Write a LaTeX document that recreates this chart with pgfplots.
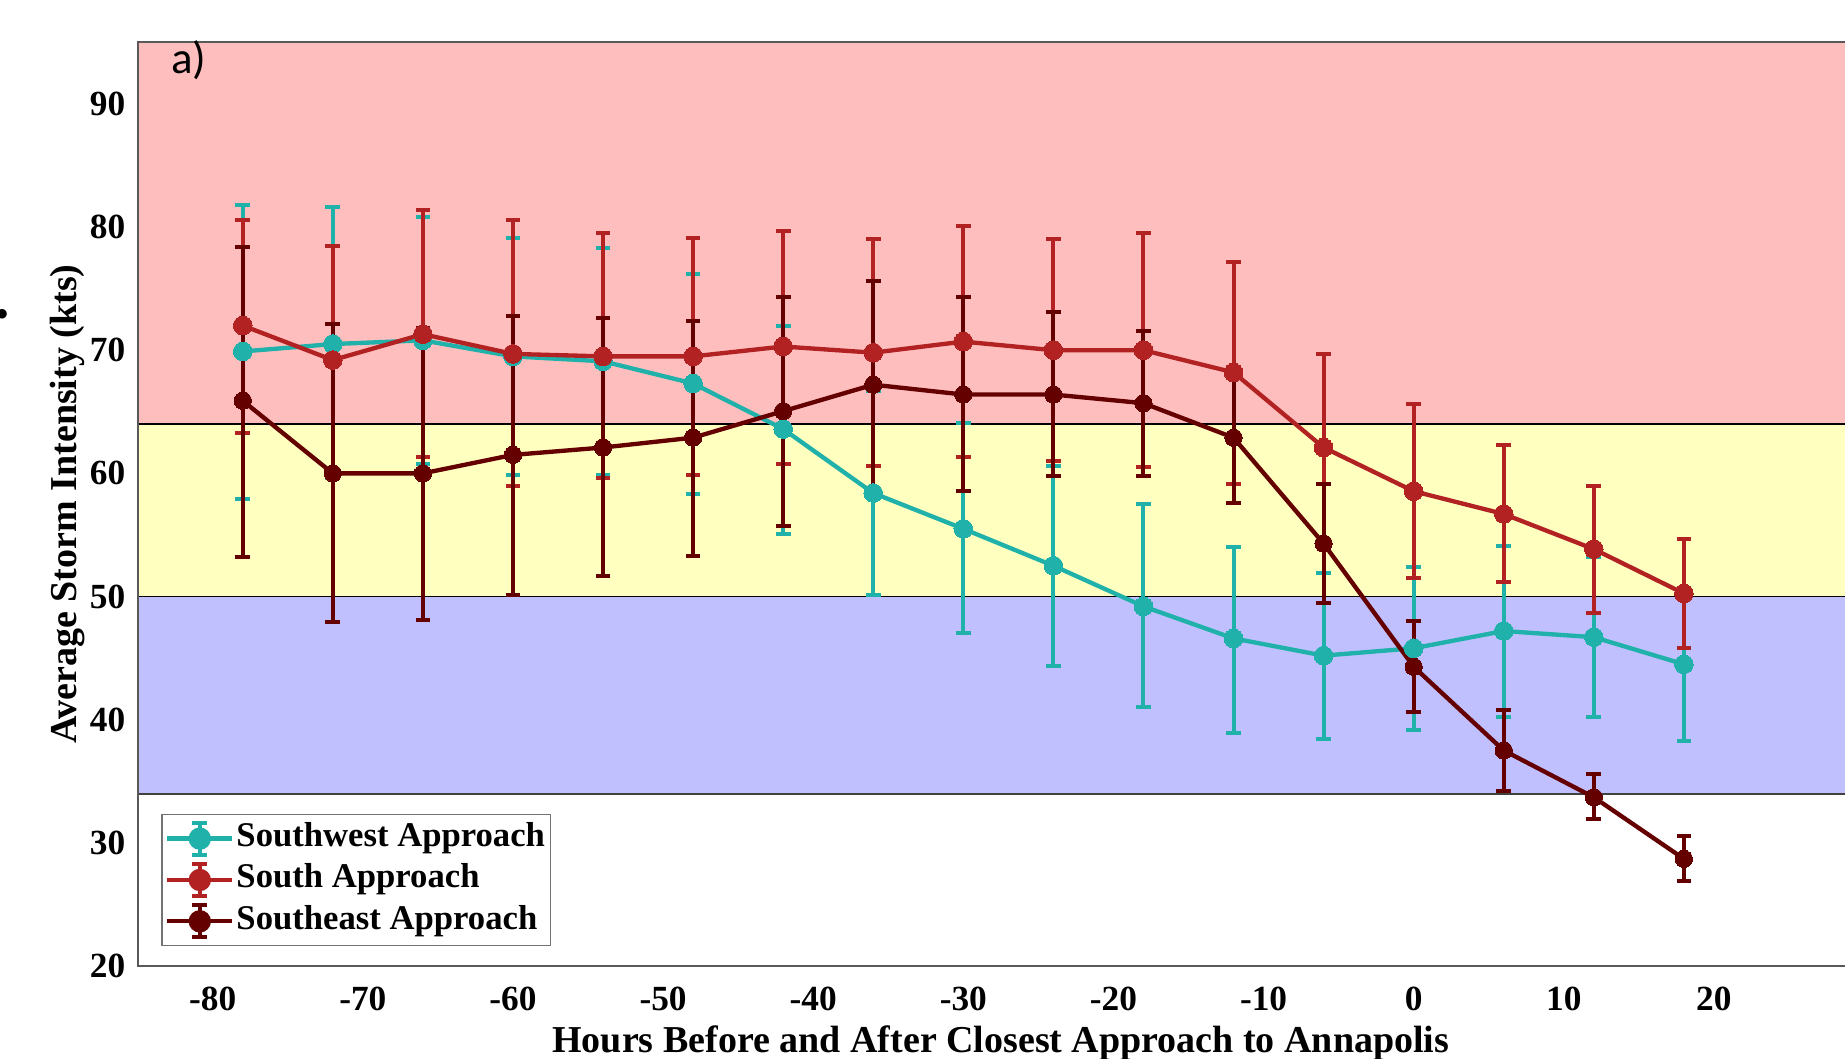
\documentclass[border=0pt]{standalone}
\usepackage{pgfplots}
\usepackage{pgfplotstable}
\pgfplotsset{compat=1.18}
\usepackage{fontspec}
\setmainfont{Liberation Serif}
\newfontfamily\carlito{Carlito}
\definecolor{cSW}{HTML}{20B2AA}
\definecolor{cS}{HTML}{B22222}
\definecolor{cSE}{HTML}{640000}
\definecolor{bandR}{HTML}{FFBEBE}
\definecolor{bandY}{HTML}{FFFFC0}
\definecolor{bandB}{HTML}{C0C0FF}

\pgfplotstableread{
x y ep em
-78 69.9 11.9 12.0
-72 70.5 11.1 10.9
-66 70.8 10.0 10.0
-60 69.5 9.6 9.65
-54 69.1 9.2 9.25
-48 67.3 8.9 9.0
-42 63.6 8.4 8.5
-36 58.4 8.3 8.3
-30 55.5 8.55 8.5
-24 52.5 8.1 8.15
-18 49.2 8.3 8.2
-12 46.6 7.4 7.7
-6 45.2 6.7 6.8
0 45.8 6.6 6.6
6 47.2 6.9 7.0
12 46.7 6.5 6.5
18 44.5 6.2 6.2
}\tabSW

\pgfplotstableread{
x y ep em
-78 72.0 8.6 8.7
-72 69.2 9.3 9.3
-66 71.3 10.1 10.0
-60 69.7 10.9 10.7
-54 69.5 10.0 9.9
-48 69.5 9.6 9.6
-42 70.3 9.4 9.5
-36 69.8 9.2 9.2
-30 70.7 9.4 9.4
-24 70.0 9.0 9.0
-18 70.0 9.5 9.5
-12 68.2 9.0 9.1
-6 62.1 7.6 7.6
0 58.55 7.05 7.05
6 56.7 5.6 5.5
12 53.85 5.15 5.15
18 50.25 4.45 4.45
}\tabS

\pgfplotstableread{
x y ep em
-78 65.9 12.5 12.7
-72 60.0 12.1 12.1
-66 60.0 11.8 11.9
-60 61.5 11.3 11.4
-54 62.1 10.5 10.4
-48 62.9 9.5 9.6
-42 65.05 9.25 9.35
-36 67.2 8.4 8.5
-30 66.4 7.9 7.8
-24 66.4 6.7 6.6
-18 65.7 5.9 5.9
-12 62.9 5.3 5.3
-6 54.3 4.8 4.8
0 44.3 3.7 3.7
6 37.5 3.3 3.3
12 33.7 1.9 1.8
18 28.7 1.85 1.8
}\tabSE

\pgfplotsset{
  errleg/.style={legend image code/.code={
    \draw[#1, line width=1.3pt] (0pt,0pt) -- (19.5pt,0pt);
    \draw[#1, line width=1.3pt] (9.75pt,-4.8pt) -- (9.75pt,4.8pt);
    \draw[#1, line width=1.2pt] (7.5pt,4.8pt) -- (12pt,4.8pt);
    \draw[#1, line width=1.2pt] (7.5pt,-4.8pt) -- (12pt,-4.8pt);
    \fill[#1] (9.75pt,0pt) circle (2.7pt);}},
  errstyle/.style={#1, line width=1.3pt, mark=*, mark size=2.8pt,
    mark options={fill=#1, draw=#1, line width=0pt},
    /pgfplots/error bars/y dir=both,
    /pgfplots/error bars/y explicit,
    /pgfplots/error bars/error bar style={line width=1.2pt, #1},
    /pgfplots/error bars/error mark options={line width=1.2pt, mark size=2.2pt, #1, rotate=90}}
}

\begin{document}
\begin{tikzpicture}
\useasboundingbox (-41.3pt,-27.9pt) rectangle (512.2pt,289.8pt);
\begin{scope}
\clip (-41.3pt,-27.9pt) rectangle (512.2pt,289.8pt);
\begin{axis}[
  scale only axis, width=517.9pt, height=277.1pt,
  xmin=-85, xmax=30, ymin=20, ymax=95,
  axis on top,
  xtick={-80,-70,-60,-50,-40,-30,-20,-10,0,10,20},
  xticklabels={-80,-70,-60,-50,-40,-30,-20,-10,0,10,20},
  ytick={20,30,40,50,60,70,80,90},
  yticklabels={20,30,40,50,60,70,80,90},
  major tick length=0pt,
  axis line style={black!65, line width=0.6pt},
  tick label style={font=\fontsize{10.6pt}{12pt}\selectfont\bfseries},
  xticklabel style={anchor=north, inner sep=0pt, yshift=-6pt},
  yticklabel style={anchor=east, inner sep=0pt, xshift=-3.5pt},
  label style={font=\fontsize{11.4pt}{13pt}\selectfont\bfseries},
  xlabel={Hours Before and After Closest Approach to Annapolis},
  ylabel={Average Storm Intensity (kts)},
  xlabel style={at={(axis description cs:0.5,-0.0942)}, anchor=base},
  ylabel style={at={(axis description cs:-0.0409,0.5)}, anchor=center},
  legend cell align=left,
  legend style={at={(axis description cs:0.0135,0.0213)}, anchor=south west,
    draw=black!55, line width=0.5pt, fill=white,
    inner xsep=1pt, inner ysep=1.8pt, row sep=1.5pt,
    font=\fontsize{10.4pt}{12pt}\selectfont\bfseries,
    nodes={inner sep=0.6pt, text height=0.7em, text depth=0.22em}},
]
\fill[bandR] (axis cs:-85,64) rectangle (axis cs:30,95);
\fill[bandY] (axis cs:-85,50) rectangle (axis cs:30,64);
\fill[bandB] (axis cs:-85,34) rectangle (axis cs:30,50);
\draw[black, line width=0.5pt] (axis cs:-85,64) -- (axis cs:30,64);
\draw[black, line width=0.5pt] (axis cs:-85,50) -- (axis cs:30,50);
\draw[black!75, line width=0.6pt] (axis cs:-85,34) -- (axis cs:30,34);

\addplot[errleg=cSW, errstyle=cSW] table[x=x, y=y, y error plus=ep, y error minus=em]{\tabSW};
\addlegendentry{Southwest Approach}
\addplot[errleg=cS, errstyle=cS] table[x=x, y=y, y error plus=ep, y error minus=em]{\tabS};
\addlegendentry{South Approach}
\addplot[errleg=cSE, errstyle=cSE, mark size=2.6pt] table[x=x, y=y, y error plus=ep, y error minus=em]{\tabSE};
\addlegendentry{Southeast Approach}
\end{axis}
\node[font=\carlito\fontsize{13.5pt}{15pt}\selectfont, anchor=center] at (15.3pt,271.8pt) {a)};
\node[font=\fontsize{12pt}{14pt}\selectfont, inner sep=0pt] at (-40.4pt,194.1pt) {\textbullet};
\end{scope}
\end{tikzpicture}
\end{document}
